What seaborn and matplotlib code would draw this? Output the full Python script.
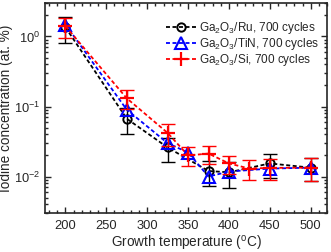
import numpy as np
import pandas as pd
import matplotlib
matplotlib.use("Agg")
import matplotlib.pyplot as plt
import seaborn as sns
from matplotlib.ticker import MultipleLocator, LogLocator, NullFormatter

# Data
temp_ru = [200, 275, 325, 375, 400, 450, 500]
iod_ru = [1.35, 0.067, 0.026, 0.012, 0.0115, 0.0154, 0.0134]
err_ru = [0.55, 0.027, 0.010, 0.0047, 0.0046, 0.0058, 0.0048]

temp_tin = [200, 275, 325, 350, 375, 400, 450, 500]
iod_tin = [1.48, 0.090, 0.030, 0.022, 0.0100, 0.0118, 0.0130, 0.0134]

temp_si = [200, 275, 325, 350, 375, 400, 425, 450, 500]
iod_si = [1.40, 0.131, 0.042, 0.020, 0.0213, 0.0154, 0.0130, 0.0133, 0.0134]
err_si = [0.45, 0.040, 0.015, 0.006, 0.0060, 0.0045, 0.0040, 0.0045, 0.0048]

labels = ["Ga$_2$O$_3$/Ru, 700 cycles",
          "Ga$_2$O$_3$/TiN, 700 cycles",
          "Ga$_2$O$_3$/Si, 700 cycles"]

sns.set_style("ticks")
plt.rcParams['font.family'] = ['Liberation Sans', 'DejaVu Sans']
plt.rcParams['mathtext.fontset'] = 'custom'
plt.rcParams['mathtext.rm'] = 'Liberation Sans'
plt.rcParams['mathtext.it'] = 'Liberation Sans:italic'

fig = plt.figure(figsize=(3.31, 2.52), dpi=100)
ax = fig.add_axes([0.136, 0.154, 0.852, 0.834])

df_ru = pd.DataFrame({"T": temp_ru, "I": iod_ru})
df_tin = pd.DataFrame({"T": temp_tin, "I": iod_tin})
df_si = pd.DataFrame({"T": temp_si, "I": iod_si})

ax.errorbar(temp_ru, iod_ru, yerr=err_ru, fmt='none', ecolor='black',
            elinewidth=1.0, capsize=5, capthick=1.0, zorder=2)
sns.lineplot(data=df_ru, x="T", y="I", ax=ax, color='black', ls=(0, (2.2, 1.4)),
             lw=1.3, marker='o', ms=6, mfc='none', mec='black', mew=1.4,
             label=labels[0], zorder=3)

sns.lineplot(data=df_tin, x="T", y="I", ax=ax, color='blue', ls=(0, (2.2, 1.4)),
             lw=1.3, marker='^', ms=9, mfc='none', mec='blue', mew=1.5,
             label=labels[1], zorder=4)

ax.errorbar(temp_si, iod_si, yerr=err_si, fmt='none', ecolor='red',
            elinewidth=1.0, capsize=5, capthick=1.0, zorder=5)
sns.lineplot(data=df_si, x="T", y="I", ax=ax, color='red', ls=(0, (2.2, 1.4)),
             lw=1.3, marker='+', ms=10, mec='red', mew=1.6,
             label=labels[2], zorder=6)

ax.set_yscale('log')
ax.set_xlim(175, 520)
ax.set_ylim(0.003, 3)

ax.xaxis.set_major_locator(MultipleLocator(50))
ax.xaxis.set_minor_locator(MultipleLocator(10))
ax.yaxis.set_major_locator(LogLocator(base=10, numticks=10))
ax.yaxis.set_minor_locator(LogLocator(base=10, subs=np.arange(2, 10), numticks=10))
ax.yaxis.set_minor_formatter(NullFormatter())

ax.tick_params(which='both', direction='in', top=True, right=True, labelsize=9.3,
               width=1.0)
ax.tick_params(axis='x', pad=5)
ax.tick_params(axis='y', pad=3.5)
ax.tick_params(which='major', length=4)
ax.tick_params(which='minor', length=2)
for s in ax.spines.values():
    s.set_linewidth(1.2)

ax.set_xlabel("Growth temperature ($^{\\rm o}$C)", fontsize=9.8, labelpad=1.5)
ax.set_ylabel("Iodine concentration (at. %)", fontsize=9.8)
ax.yaxis.set_label_coords(-0.115, 0.5)

ax.legend(loc='upper right', bbox_to_anchor=(1.015, 0.975), frameon=False,
          fontsize=8.5, handlelength=2.5, handletextpad=0.3, labelspacing=0.0,
          borderaxespad=0.6)

fig.savefig("out.png", dpi=100)
